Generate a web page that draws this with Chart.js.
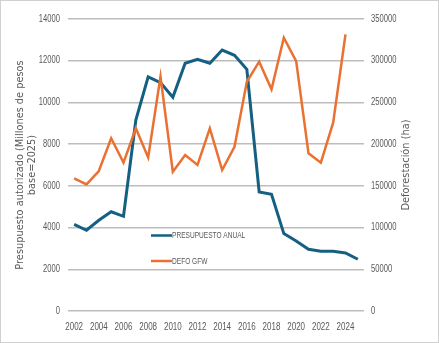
<!DOCTYPE html>
<html>
<head>
<meta charset="utf-8">
<script src="https://cdn.jsdelivr.net/npm/chart.js@4.4.1/dist/chart.umd.min.js"></script>
<style>
  html, body { margin: 0; padding: 0; background: #fff; }
  canvas { display: block; }
</style>
</head>
<body>
<canvas id="chart" width="439" height="343"></canvas>
<script>
const years = ['2002', '2003', '2004', '2005', '2006', '2007', '2008', '2009', '2010', '2011', '2012', '2013',
  '2014', '2015', '2016', '2017', '2018', '2019', '2020', '2021', '2022', '2023', '2024', '2025'];

// presupuesto autorizado, millones de pesos base=2025
const presupuesto = [4150, 3870, 4350, 4760, 4540, 9150, 11230, 10950, 10250, 11880, 12070, 11880,
  12510, 12260, 11590, 5710, 5600, 3710, 3360, 2960, 2860, 2860, 2780, 2480];

// deforestación GFW (ha), sin dato 2025
const defoGfw = [159000, 151800, 167800, 207000, 177800, 219000, 184000, 281000, 167000, 187000, 175000, 219000,
  169000, 196900, 274800, 298800, 265700, 327600, 299600, 189000, 177800, 225700, 331600, null];

const BLUE = '#156082';
const ORANGE = '#E97132';
const TEXT = '#595959';
const GRID = '#bdbdbd';
const SANS = '"Liberation Sans", Arial, sans-serif';

// texto angosto (estilo Arial Narrow) dibujado con escala horizontal
function narrowText(ctx, text, x, y, align, size, squeeze) {
  ctx.save();
  ctx.font = size + 'px ' + SANS;
  ctx.textBaseline = 'middle';
  ctx.textAlign = align;
  ctx.translate(x, y);
  ctx.scale(squeeze, 1);
  ctx.fillText(text, 0, 0);
  ctx.restore();
}

// fondo blanco y marco gris
const frame = {
  id: 'frame',
  beforeDraw(chart) {
    const ctx = chart.ctx;
    ctx.save();
    ctx.fillStyle = '#ffffff';
    ctx.fillRect(0, 0, chart.width, chart.height);
    ctx.restore();
  },
  afterDraw(chart) {
    const ctx = chart.ctx;
    ctx.save();
    ctx.strokeStyle = '#d0d0d0';
    ctx.lineWidth = 1;
    ctx.strokeRect(0.5, 0.5, chart.width - 1, chart.height - 1);
    ctx.restore();
  }
};

new Chart(document.getElementById('chart'), {
  type: 'line',
  data: {
    labels: years,
    datasets: [
      {
        label: 'PRESUPUESTO ANUAL',
        data: presupuesto,
        borderColor: BLUE,
        backgroundColor: BLUE,
        borderWidth: 3,
        yAxisID: 'y',
        order: 2
      },
      {
        label: 'DEFO GFW',
        data: defoGfw,
        borderColor: ORANGE,
        backgroundColor: ORANGE,
        borderWidth: 2.5,
        yAxisID: 'y1',
        order: 1
      }
    ]
  },
  options: {
    responsive: false,
    animation: false,
    layout: { padding: { top: 19, left: 0, right: 0, bottom: 0 } },
    elements: {
      point: { radius: 0 },
      line: { tension: 0, borderJoinStyle: 'miter', borderCapStyle: 'butt' }
    },
    plugins: {
      legend: { display: false },
      tooltip: { enabled: false }
    },
    scales: {
      x: {
        offset: true,
        grid: { display: false },
        border: { display: false },
        ticks: {
          display: false,
          autoSkip: false,
          maxRotation: 0,
          callback: (v, i) => (i % 2 === 0 ? years[i] : '')
        },
        afterFit: (scale) => { scale.height = 32; }
      },
      y: {
        position: 'left',
        min: 0,
        max: 14000,
        grid: { display: true, color: GRID, lineWidth: 1.5, drawTicks: false, drawOnChartArea: true },
        border: { display: false },
        ticks: { display: false, stepSize: 2000, callback: (v) => String(v) },
        afterFit: (scale) => { scale.width = 68; }
      },
      y1: {
        position: 'right',
        min: 0,
        max: 350000,
        grid: { display: false },
        border: { display: false },
        ticks: { display: false, stepSize: 50000, callback: (v) => String(v) },
        afterFit: (scale) => { scale.width = 75; }
      }
    }
  },
  plugins: [frame, {
    id: 'labelsAndLegend',
    afterDraw(chart) {
      const ctx = chart.ctx;
      const { x, y, y1 } = chart.scales;
      ctx.save();
      ctx.fillStyle = TEXT;
      // etiquetas de los ejes
      y.ticks.forEach((t, i) => narrowText(ctx, t.label, y.right - 8, y.getPixelForTick(i), 'right', 10, 0.76));
      y1.ticks.forEach((t, i) => narrowText(ctx, t.label, y1.left + 7, y1.getPixelForTick(i), 'left', 10, 0.76));
      x.ticks.forEach((t, i) => {
        if (t.label) narrowText(ctx, t.label, x.getPixelForTick(i), x.top + 16, 'center', 10, 0.8);
      });

      // títulos, ambos leídos de abajo hacia arriba
      const midY = (chart.chartArea.top + chart.chartArea.bottom) / 2;
      ctx.font = '9.8px "DejaVu Sans", sans-serif';
      ctx.textAlign = 'center';
      ctx.textBaseline = 'middle';
      [['Presupuesto autorizado (Millones de pesos', 20], ['base=2025)', 32], ['Deforestación (ha)', 406]]
        .forEach(([text, px]) => {
          ctx.save();
          ctx.translate(px, midY);
          ctx.rotate(-Math.PI / 2);
          ctx.fillText(text, 0, 0);
          ctx.restore();
        });

      // leyenda dentro del área de trazado
      const rows = [235.5, 261];
      chart.data.datasets.forEach((ds, i) => {
        ctx.strokeStyle = ds.borderColor;
        ctx.lineWidth = 2.5;
        ctx.beginPath();
        ctx.moveTo(151, rows[i]);
        ctx.lineTo(172, rows[i]);
        ctx.stroke();
        ctx.fillStyle = TEXT;
        narrowText(ctx, ds.label, 172, rows[i] + 0.5, 'left', 9, 0.73);
      });
      ctx.restore();
    }
  }]
});
</script>
</body>
</html>
